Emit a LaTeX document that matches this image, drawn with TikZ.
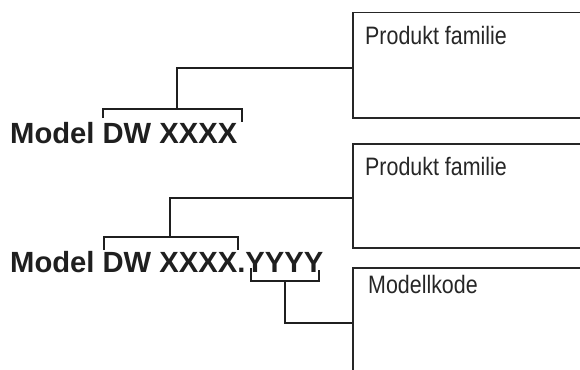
\documentclass[tikz,border=0pt]{standalone}
\usepackage{fontspec}
\setmainfont{Liberation Sans}
\newfontfamily\narrowfont[FakeStretch=0.85]{Liberation Sans}
\usetikzlibrary{positioning}
\tikzset{
  modeltext/.style={font=\fontsize{29.2}{31}\selectfont\bfseries, text=black!88, inner sep=0pt},
  boxlabel/.style={font=\narrowfont\fontsize{25.2}{27}\selectfont, text=black!85, inner sep=0pt},
  infobox/.style={draw=black!85, line width=1.5pt, minimum width=260pt, inner sep=0pt},
  bracket/.style={draw=black!88, line width=1.6pt},
  link/.style={draw=black!88, line width=1.6pt}
}
\begin{document}
\begin{tikzpicture}[x=1pt,y=-1pt]
\path[use as bounding box, clip] (0,0) rectangle (580,369);
% boxes on the right
\node [infobox, minimum height=105pt, anchor=north west] (box1) at (352,12) {};
\node [infobox, minimum height=104pt, anchor=north west] (box2) at (352,143) {};
\node [infobox, minimum height=110pt, anchor=north west] (box3) at (352,267) {};
\node [boxlabel, anchor=base west] (fam1) at (365,45) {Produkt familie};
\node [boxlabel, anchor=base west] (fam2) at (365,175) {Produkt familie};
\node [boxlabel, anchor=base west] (kode) at (368,293) {Modellkode};
% model texts
\node [modeltext, anchor=base west] (model1) at (10,143) {Model DW XXXX};
\node [modeltext, anchor=base west] (model2) at (10,272) {Model DW XXXX.YYYY};
% brackets
\draw [bracket] (103,118) -- (103,109) -- (242,109) -- (242,122);
\coordinate (brk1) at (177,109);
\draw [bracket] (104,250) -- (104,237) -- (238,237) -- (238,250);
\coordinate (brk2) at (170,237);
\draw [bracket] (251,268) -- (251,281) -- (319,281) -- (319,270);
\coordinate (brk3) at (285,281);
% connectors
\draw [link] (brk1) |- ([yshift=-3pt]box1.west);
\draw [link] (brk2) |- ([yshift=-2pt]box2.west);
\draw [link] (brk3) |- (box3.west);
\end{tikzpicture}
\end{document}
